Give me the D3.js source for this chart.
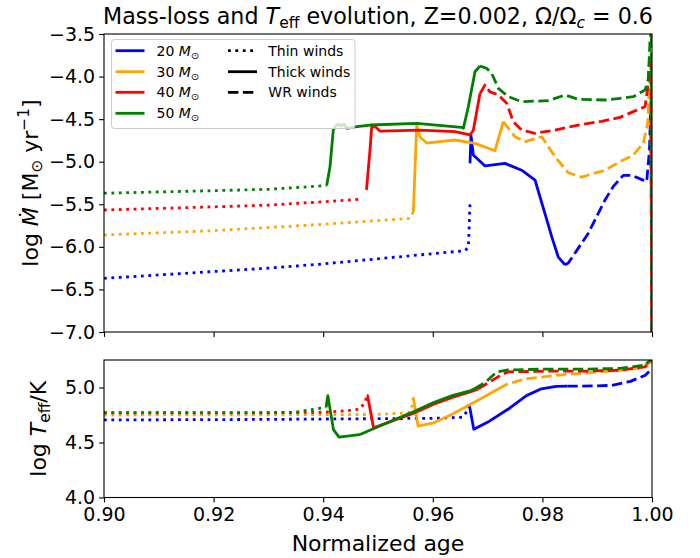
<!DOCTYPE html>
<html><head><meta charset="utf-8">
<script src="https://cdn.jsdelivr.net/npm/d3@7"></script>
<style>body{margin:0;background:#fff} text{font-family:"DejaVu Sans",sans-serif;fill:#000}</style>
</head><body><svg id="c" width="700" height="558"></svg>
<script>
// ---------------- DATA ----------------
const massLabels = ["20", "30", "40", "50"];
const massColors = ["#0000ff", "#ffa500", "#ff0000", "#008000"];
const windLabels = ["Thin winds", "Thick winds", "WR winds"];
const xTicks = [0.90, 0.92, 0.94, 0.96, 0.98, 1.00];
const yTicksMdot = [-3.5, -4.0, -4.5, -5.0, -5.5, -6.0, -6.5, -7.0];
const yTicksTeff = [4.0, 4.5, 5.0];

// log Mdot vs normalized age : [age, value]
const mdot20Thin  = [[0.90,-6.37],[0.92,-6.29],[0.93,-6.25],[0.94,-6.20],[0.96,-6.08],[0.9659,-6.045],[0.9665,-6.00],[0.9668,-5.47]];
const mdot20Thick = [[0.96679,-5.02],[0.96697,-4.69],[0.96739,-4.92],[0.96953,-5.05],[0.97318,-5.02],[0.97622,-5.10],[0.97865,-5.215],[0.98047,-5.61],[0.98170,-5.88],[0.98290,-6.12],[0.98412,-6.21]];
const mdot20WR    = [[0.98412,-6.21],[0.98473,-6.19],[0.98838,-5.84],[0.99142,-5.45],[0.99294,-5.29],[0.99476,-5.16],[0.99630,-5.16],[0.99903,-5.235],[0.99954,-4.86],[0.99980,-4.30],[1.0,-8.0]];

const mdot30Thin  = [[0.90,-5.86],[0.92,-5.81],[0.94,-5.735],[0.9558,-5.665],[0.95645,-5.59]];
const mdot30Thick = [[0.95645,-5.59],[0.95706,-4.57],[0.95766,-4.71],[0.95889,-4.78],[0.96131,-4.765],[0.96405,-4.745],[0.96770,-4.784],[0.97135,-4.871],[0.97286,-4.53]];
const mdot30WR    = [[0.97286,-4.53],[0.97500,-4.706],[0.97682,-4.765],[0.97987,-4.706],[0.98230,-4.941],[0.98473,-5.13],[0.98717,-5.18],[0.99142,-5.10],[0.99416,-5.00],[0.99659,-4.921],[0.99841,-4.784],[0.99922,-4.55],[0.99951,-4.16],[0.99980,-3.95],[1.0,-8.0]];

const mdot40Thin  = [[0.90,-5.567],[0.92,-5.53],[0.93,-5.51],[0.94,-5.47],[0.94703,-5.44]];
const mdot40Thick = [[0.94790,-5.33],[0.94854,-4.86],[0.94885,-4.59],[0.94950,-4.59],[0.95036,-4.64],[0.95766,-4.63],[0.96405,-4.647],[0.96679,-4.686],[0.96740,-4.63],[0.96861,-4.20]];
const mdot40WR    = [[0.96861,-4.20],[0.96953,-4.10],[0.97044,-4.18],[0.97196,-4.216],[0.97349,-4.314],[0.97469,-4.53],[0.97622,-4.628],[0.97865,-4.666],[0.98230,-4.628],[0.98655,-4.569],[0.99082,-4.525],[0.99416,-4.479],[0.99659,-4.412],[0.99872,-4.354],[0.99922,-4.134],[0.99945,-3.884],[0.99980,-3.75],[1.0,-8.0]];

const mdot50Thin  = [[0.90,-5.37],[0.92,-5.34],[0.93,-5.324],[0.94064,-5.28]];
const mdot50Thick = [[0.94064,-5.28],[0.94124,-5.06],[0.94184,-4.63],[0.94215,-4.59],[0.94270,-4.557],[0.94325,-4.58],[0.94380,-4.557],[0.94429,-4.608],[0.94580,-4.592],[0.94854,-4.569],[0.95706,-4.549],[0.96527,-4.596],[0.96557,-4.608],[0.96648,-4.354],[0.96770,-3.943],[0.96861,-3.876]];
const mdot50WR    = [[0.96861,-3.876],[0.96983,-3.903],[0.97075,-3.962],[0.97196,-4.138],[0.97378,-4.236],[0.97622,-4.295],[0.98108,-4.283],[0.98412,-4.216],[0.98655,-4.267],[0.99142,-4.275],[0.99416,-4.255],[0.99659,-4.236],[0.99872,-4.158],[0.99932,-4.04],[0.99964,-3.57],[0.99990,-3.45],[1.0,-8.0]];

// log Teff vs normalized age : [age, value]
const teff20Thin  = [[0.90,4.705],[0.93,4.71],[0.96,4.72],[0.9655,4.73],[0.9663,4.79],[0.9666,4.86]];
const teff20Thick = [[0.9667,4.83],[0.96748,4.62],[0.97033,4.694],[0.97371,4.802],[0.97710,4.926],[0.97981,4.988],[0.98252,5.01],[0.98455,5.012]];
const teff20WR    = [[0.98455,5.012],[0.98726,5.012],[0.99268,5.019],[0.99607,5.056],[0.99878,5.111],[1.0,5.17]];

const teff30Thin  = [[0.90,4.75],[0.93,4.752],[0.95,4.755],[0.9555,4.77],[0.9561,4.80],[0.95644,4.91]];
const teff30Thick = [[0.95644,4.91],[0.95732,4.648],[0.96016,4.679],[0.96355,4.756],[0.96694,4.849],[0.97033,4.941],[0.97202,4.988]];
const teff30WR    = [[0.97202,4.988],[0.97371,5.034],[0.97710,5.08],[0.98388,5.117],[0.99065,5.142],[0.99743,5.173],[1.0,5.235]];

const teff40Thin  = [[0.90,4.77],[0.93,4.77],[0.94,4.775],[0.9439,4.787],[0.94661,4.802],[0.94763,4.864],[0.94797,4.926]];
const teff40Thick = [[0.94797,4.926],[0.94810,4.926],[0.94919,4.633],[0.95339,4.71],[0.95678,4.772],[0.96016,4.849],[0.96355,4.91],[0.96694,4.963],[0.96829,4.988]];
const teff40WR    = [[0.96829,4.988],[0.97033,5.049],[0.97236,5.111],[0.97371,5.142],[0.98049,5.148],[0.98726,5.148],[0.99404,5.157],[0.99878,5.188],[1.0,5.25]];

const teff50Thin  = [[0.90,4.772],[0.93,4.772],[0.935,4.775],[0.93645,4.787],[0.93916,4.809],[0.94052,4.818]];
const teff50Thick = [[0.94052,4.818],[0.94085,4.926],[0.94187,4.617],[0.94289,4.549],[0.94661,4.571],[0.95339,4.716],[0.95678,4.787],[0.96016,4.864],[0.96355,4.926],[0.96694,4.972],[0.96762,4.988]];
const teff50WR    = [[0.96762,4.988],[0.96965,5.049],[0.97168,5.142],[0.97371,5.16],[0.98049,5.167],[0.98726,5.167],[0.99404,5.173],[0.99878,5.204],[1.0,5.27]];

const mdotSeries = [[mdot20Thin,mdot20Thick,mdot20WR],[mdot30Thin,mdot30Thick,mdot30WR],[mdot40Thin,mdot40Thick,mdot40WR],[mdot50Thin,mdot50Thick,mdot50WR]];
const teffSeries = [[teff20Thin,teff20Thick,teff20WR],[teff30Thin,teff30Thick,teff30WR],[teff40Thin,teff40Thick,teff40WR],[teff50Thin,teff50Thick,teff50WR]];

// ---------------- DRAW ----------------
const svg = d3.select("#c");
const L = 104, R = 652;
const topT = 34, topB = 332, botT = 360, botB = 497.5;
const LW = 2.8;
const dashes = ["2.8,4.6", null, "10.4,4.5"];

const x = d3.scaleLinear().domain([0.9, 1.0]).range([L, R]);
const yTop = d3.scaleLinear().domain([-7.0, -3.5]).range([topB, topT]);
const yBot = d3.scaleLinear().domain([4.0, 5.25]).range([botB, botT]);

const defs = svg.append("defs");
defs.append("clipPath").attr("id","clipTop").append("rect").attr("x",L).attr("y",topT).attr("width",R-L).attr("height",topB-topT);
defs.append("clipPath").attr("id","clipBot").append("rect").attr("x",L).attr("y",botT).attr("width",R-L).attr("height",botB-botT);

function rich(g, xx, yy, parts, size, anchor, transform) {
  const t = g.append("text").attr("x", xx).attr("y", yy).attr("font-size", size)
    .attr("text-anchor", anchor || "start");
  if (transform) t.attr("transform", transform);
  let cur = 0;
  parts.forEach(p => {
    if (typeof p === "string") p = {t: p};
    const target = (p.sh || 0) * size;
    const ts = t.append("tspan").text(p.t).attr("dy", target - cur);
    cur = target;
    if (p.s) ts.attr("font-size", p.s * size);
    if (p.i) ts.attr("font-style", "italic");
  });
  return t;
}

function drawPanel(series, y, clipId) {
  const g = svg.append("g").attr("clip-path", `url(#${clipId})`);
  const line = d3.line().x(d => x(d[0])).y(d => y(d[1]));
  series.forEach((segs, mi) => {
    segs.forEach((seg, si) => {
      const p = g.append("path").datum(seg).attr("d", line)
        .attr("fill", "none").attr("stroke", massColors[mi])
        .attr("stroke-width", LW).attr("stroke-linejoin", "round");
      if (dashes[si]) p.attr("stroke-dasharray", dashes[si]);
    });
  });
}

drawPanel(mdotSeries, yTop, "clipTop");
drawPanel(teffSeries, yBot, "clipBot");

// axes
function axes(y, yT, yB, yticks, showXLabels) {
  const ax = d3.axisLeft(y).tickValues(yticks).tickSize(4.9).tickPadding(4)
    .tickFormat(d => d3.format(".1f")(d).replace("-", "\u2212"));
  const gy = svg.append("g").attr("transform", `translate(${L},0)`).call(ax);
  gy.select(".domain").remove();
  gy.selectAll("text").attr("font-size", 19).attr("font-family", "DejaVu Sans");
  gy.selectAll("line").attr("stroke-width", 1.1);
  const axx = d3.axisBottom(x).tickValues(xTicks).tickSize(4.9).tickPadding(5)
    .tickFormat(showXLabels ? d3.format(".2f") : () => "");
  const gx = svg.append("g").attr("transform", `translate(0,${yB})`).call(axx);
  gx.select(".domain").remove();
  gx.selectAll("text").attr("font-size", 19).attr("font-family", "DejaVu Sans");
  gx.selectAll("line").attr("stroke-width", 1.1);
  svg.append("rect").attr("x", L).attr("y", yT).attr("width", R - L).attr("height", yB - yT)
    .attr("fill", "none").attr("stroke", "#000").attr("stroke-width", 1.1);
}
axes(yTop, topT, topB, yTicksMdot, false);
axes(yBot, botT, botB, yTicksTeff, true);

// title
rich(svg, (L + R) / 2, 24, ["Mass-loss and ", {t: "T", i: 1}, {t: "eff", s: 0.7, sh: 0.2},
  " evolution, Z=0.002, \u03A9/\u03A9", {t: "c", i: 1, s: 0.7, sh: 0.2}, {t: " = 0.6", sh: 0}], 22.2, "middle");

// axis labels
rich(svg, (L + R) / 2, 551, ["Normalized age"], 22, "middle");
const cyTop = (topT + topB) / 2, cyBot = (botT + botB) / 2;
rich(svg, 38, cyTop, ["log ", {t: "\u1E40", i: 1}, " [M", {t: "\u2299", s: 0.7, sh: 0.2},
  {t: " yr", sh: 0}, {t: "\u22121", s: 0.7, sh: -0.4}, {t: "]", sh: 0}], 22, "middle",
  `rotate(-90,38,${cyTop})`);
rich(svg, 46, cyBot, ["log ", {t: "T", i: 1}, {t: "eff", s: 0.7, sh: 0.2}, {t: "/K", sh: 0}], 22, "middle",
  `rotate(-90,46,${cyBot})`);

// legend
const lg = svg.append("g");
lg.append("rect").attr("x", 111.5).attr("y", 39.5).attr("width", 243.5).attr("height", 89)
  .attr("rx", 3).attr("fill", "#fff").attr("fill-opacity", 0.8).attr("stroke", "#cccccc").attr("stroke-width", 1);
const rowY = [50.7, 71.7, 92.3, 113.3];
massLabels.forEach((m, i) => {
  lg.append("line").attr("x1", 115.5).attr("x2", 144.5).attr("y1", rowY[i]).attr("y2", rowY[i])
    .attr("stroke", massColors[i]).attr("stroke-width", LW);
  rich(lg, 156.5, rowY[i] + 5, [m + " ", {t: "M", i: 1}, {t: "\u2299", s: 0.7, sh: 0.2}], 14, "start");
});
windLabels.forEach((w, i) => {
  const l = lg.append("line").attr("x1", 228).attr("x2", 257).attr("y1", rowY[i]).attr("y2", rowY[i])
    .attr("stroke", "#000").attr("stroke-width", LW);
  if (dashes[i]) l.attr("stroke-dasharray", dashes[i]);
  rich(lg, 268.3, rowY[i] + 5, [w], 14, "start");
});
</script></body></html>
